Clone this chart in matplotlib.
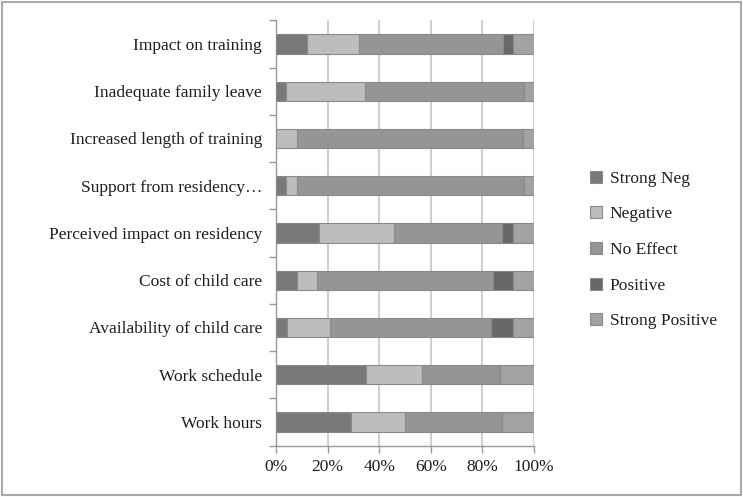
import matplotlib.pyplot as plt
import numpy as np

plt.rcParams.update({
    "font.family": ["Liberation Serif", "DejaVu Serif"],
    "font.size": 12,
})

# categories, top to bottom as shown
categories = ["Impact on training", "Inadequate family leave",
              "Increased length of training", "Support from residency\u2026",
              "Perceived impact on residency", "Cost of child care",
              "Availability of child care", "Work schedule", "Work hours"]

series = ["Strong Neg", "Negative", "No Effect", "Positive", "Strong Positive"]

# percent of respondents per category
strong_neg = [12.0, 3.8, 0.0, 4.0, 16.7, 8.0, 4.2, 34.8, 29.2]
negative = [20.0, 30.8, 8.3, 4.0, 29.1, 8.0, 16.6, 21.7, 20.8]
no_effect = [56.0, 61.6, 87.5, 88.0, 41.7, 68.0, 62.5, 30.5, 37.5]
positive = [4.0, 0.0, 0.0, 0.0, 4.2, 8.0, 8.4, 0.0, 0.0]
strong_pos = [8.0, 3.8, 4.2, 4.0, 8.3, 8.0, 8.3, 13.0, 12.5]

xticks = [0, 20, 40, 60, 80, 100]
xticklabels = ["0%", "20%", "40%", "60%", "80%", "100%"]

colors = ["#797979", "#bdbdbd", "#959595", "#686868", "#a2a2a2"]
EDGE = "#8a8a8a"
TEXT = "#1e1e1e"

fig = plt.figure(figsize=(7.43, 4.97), dpi=100)
ax = fig.add_axes([0.3715, 0.1034, 0.3472, 0.8556])

y = np.arange(len(categories))
left = np.zeros(len(categories))
for name, vals, c in zip(series, [strong_neg, negative, no_effect, positive, strong_pos], colors):
    vals = np.array(vals)
    ax.barh(y, vals, left=left, height=0.41, color=c, edgecolor=EDGE,
            linewidth=0.8, label=name, zorder=3)
    left += vals

ax.set_ylim(len(categories) - 0.5, -0.5)
ax.set_xlim(0, 100)
ax.set_yticks(y)
ax.set_yticklabels(categories, fontsize=12.5, color=TEXT)
ax.set_yticks(np.arange(-0.5, len(categories)), minor=True)
ax.tick_params(axis="y", which="major", length=0, pad=10)
ax.tick_params(axis="y", which="minor", length=5, color="#999999", width=1)
ax.set_xticks(xticks)
ax.set_xticklabels(xticklabels, fontsize=12.5, color=TEXT)
ax.tick_params(axis="x", length=5, color="#999999", width=1, pad=5)

ax.grid(axis="x", color="#c6c6c6", linewidth=1.2, zorder=0)
for s in ["top", "right"]:
    ax.spines[s].set_visible(False)
for s in ["left", "bottom"]:
    ax.spines[s].set_color("#999999")
    ax.spines[s].set_linewidth(1.0)

leg = ax.legend(loc="center left", bbox_to_anchor=(1.155, 0.46), frameon=False,
                fontsize=12.5, handlelength=0.7, handleheight=0.7,
                labelspacing=1.12, handletextpad=0.45)
for t in leg.get_texts():
    t.set_color(TEXT)

# outer frame round the whole picture
fig.patches.append(plt.Rectangle((0.003, 0.004), 0.994, 0.992,
                                 transform=fig.transFigure, fill=False,
                                 edgecolor="#aaaaaa", linewidth=1.5))

fig.savefig("out.png", dpi=100, facecolor="white")
